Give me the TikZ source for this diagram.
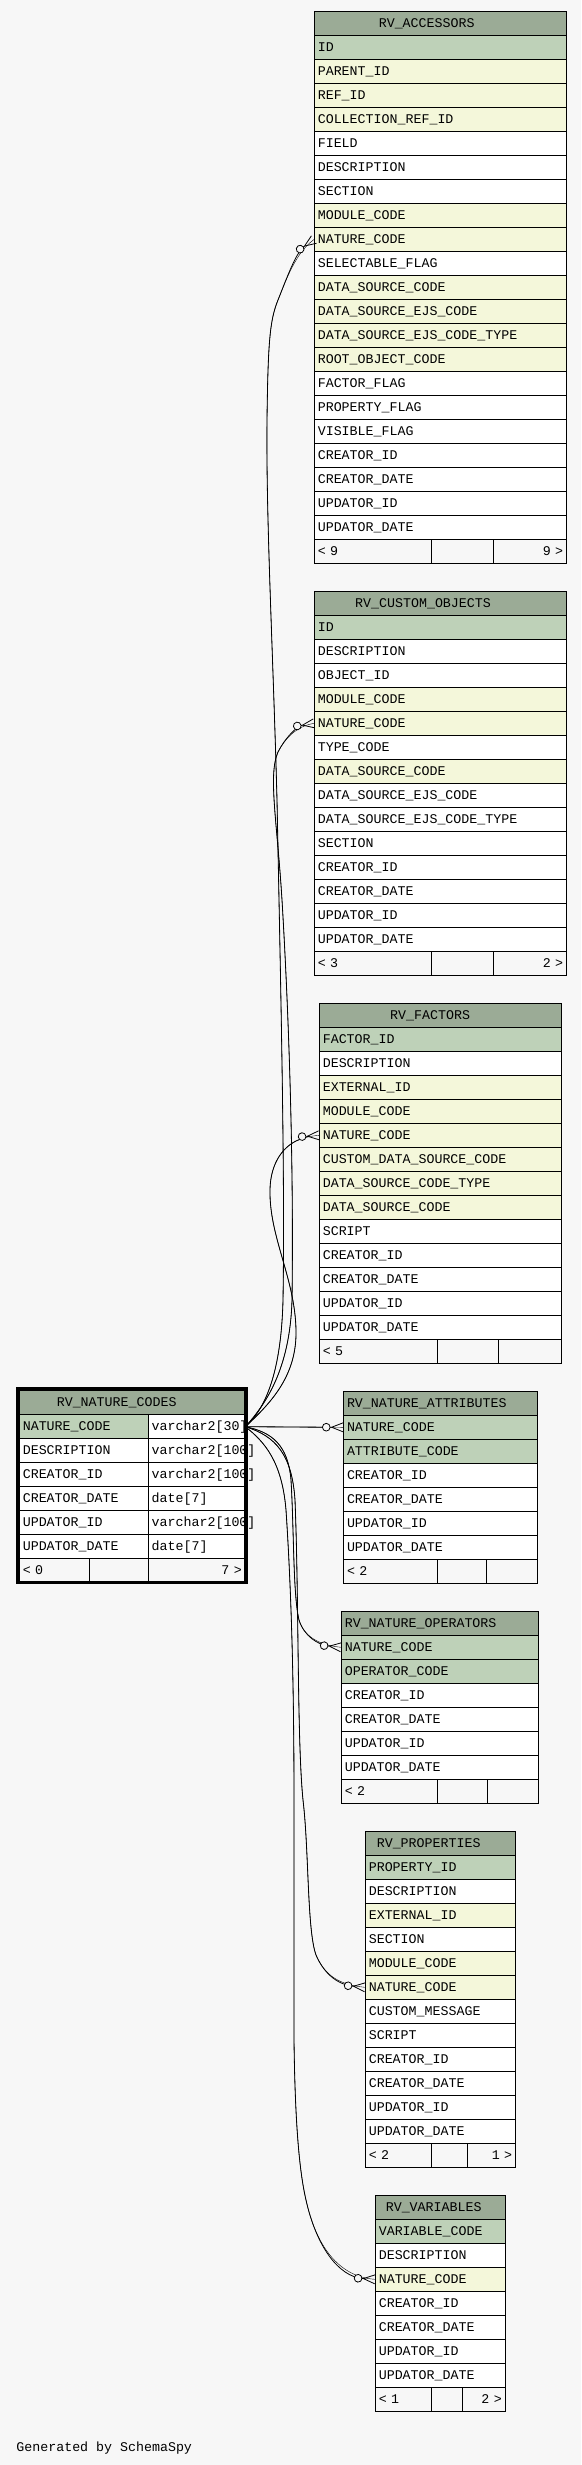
\documentclass[tikz,border=0pt]{standalone}
\usepackage{fontspec}
\setmonofont{Liberation Mono}
\usetikzlibrary{arrows.meta,positioning}

\definecolor{fondo}{HTML}{F7F7F7}
\definecolor{cabecera}{HTML}{9BAB96}
\definecolor{pk}{HTML}{BED1B8}
\definecolor{fk}{HTML}{F4F7DA}

\begin{document}
\begin{tikzpicture}[x=1pt, y=-1pt,
  celda/.style={draw, line width=0.9pt, anchor=north west, outer sep=0pt,
    inner xsep=3.5pt, inner ysep=0pt, minimum height=24pt,
    text height=9pt, text depth=1pt, align=left,
    font=\ttfamily\fontsize{13.3}{14}\selectfont},
  cab/.style={celda, fill=cabecera},
  pie/.style={celda, fill=fondo},
  rel/.style={line width=0.8pt, preaction={draw,-},
    -{Circle[length=8.5pt,width=8.5pt,fill=fondo]Straight Barb[reversed,length=11.5pt,width=9pt]}}
]

  % Fondo y marco de la imagen
  \useasboundingbox (0,0) rectangle (581,2465);
  \fill[fondo] (0,0) rectangle (581,2465);

  % Tabla RV_ACCESSORS
  \node[cab, text width=245.4pt] (acc) at (314.3,11.3) {\hspace*{61pt}RV\_ACCESSORS};
  \foreach \nom/\relleno [count=\i] in {ID/pk, PARENT\_ID/fk, REF\_ID/fk,
      COLLECTION\_REF\_ID/fk, FIELD/white, DESCRIPTION/white, SECTION/white,
      MODULE\_CODE/fk, NATURE\_CODE/fk, SELECTABLE\_FLAG/white,
      DATA\_SOURCE\_CODE/fk, DATA\_SOURCE\_EJS\_CODE/fk,
      DATA\_SOURCE\_EJS\_CODE\_TYPE/fk, ROOT\_OBJECT\_CODE/fk,
      FACTOR\_FLAG/white, PROPERTY\_FLAG/white, VISIBLE\_FLAG/white,
      CREATOR\_ID/white, CREATOR\_DATE/white, UPDATOR\_ID/white,
      UPDATOR\_DATE/white}{
    \node[celda, fill=\relleno, text width=245.4pt] (acc-\i) at (314.3,11.3+24*\i) {\nom};
  }
  \node[pie, text width=110.4pt] (acc-p1) at (314.3,539.3) {< 9};
  \node[pie, text width=55pt, right=0pt of acc-p1] (acc-p2) {};
  \node[pie, text width=66pt, align=right, right=0pt of acc-p2] (acc-p3) {9 >};

  % Tabla RV_CUSTOM_OBJECTS
  \node[cab, text width=245.4pt] (co) at (314.3,591.3) {\hspace*{37.4pt}RV\_CUSTOM\_OBJECTS};
  \foreach \nom/\relleno [count=\i] in {ID/pk, DESCRIPTION/white,
      OBJECT\_ID/white, MODULE\_CODE/fk, NATURE\_CODE/fk, TYPE\_CODE/white,
      DATA\_SOURCE\_CODE/fk, DATA\_SOURCE\_EJS\_CODE/white,
      DATA\_SOURCE\_EJS\_CODE\_TYPE/white, SECTION/white, CREATOR\_ID/white,
      CREATOR\_DATE/white, UPDATOR\_ID/white, UPDATOR\_DATE/white}{
    \node[celda, fill=\relleno, text width=245.4pt] (co-\i) at (314.3,591.3+24*\i) {\nom};
  }
  \node[pie, text width=110.4pt] (co-p1) at (314.3,951.3) {< 3};
  \node[pie, text width=55pt, right=0pt of co-p1] (co-p2) {};
  \node[pie, text width=66pt, align=right, right=0pt of co-p2] (co-p3) {2 >};

  % Tabla RV_FACTORS
  \node[cab, text width=235.4pt] (fac) at (319.3,1003.3) {\hspace*{67.4pt}RV\_FACTORS};
  \foreach \nom/\relleno [count=\i] in {FACTOR\_ID/pk, DESCRIPTION/white,
      EXTERNAL\_ID/fk, MODULE\_CODE/fk, NATURE\_CODE/fk,
      CUSTOM\_DATA\_SOURCE\_CODE/fk, DATA\_SOURCE\_CODE\_TYPE/fk,
      DATA\_SOURCE\_CODE/fk, SCRIPT/white, CREATOR\_ID/white,
      CREATOR\_DATE/white, UPDATOR\_ID/white, UPDATOR\_DATE/white}{
    \node[celda, fill=\relleno, text width=235.4pt] (fac-\i) at (319.3,1003.3+24*\i) {\nom};
  }
  \node[pie, text width=111pt] (fac-p1) at (319.3,1339.3) {< 5};
  \node[pie, text width=54.4pt, right=0pt of fac-p1] (fac-p2) {};
  \node[pie, text width=56pt, right=0pt of fac-p2] (fac-p3) {};

  % Tabla RV_NATURE_CODES (tabla principal, dos columnas)
  \node[cab, text width=219pt] (nc) at (19.3,1390.7) {\hspace*{34pt}RV\_NATURE\_CODES};
  \foreach \nom/\tipo/\relleno [count=\i] in {NATURE\_CODE/varchar2[30]/pk,
      DESCRIPTION/varchar2[100]/white, CREATOR\_ID/varchar2[100]/white,
      CREATOR\_DATE/date[7]/white, UPDATOR\_ID/varchar2[100]/white,
      UPDATOR\_DATE/date[7]/white}{
    \node[celda, fill=\relleno, text width=121.9pt] (nc-\i) at (19.3,1390.7+24*\i) {\nom};
    \node[celda, fill=white, text width=90.1pt, right=0pt of nc-\i] (nctipo-\i) {\tipo};
  }
  \node[pie, text width=63pt] (nc-p1) at (19.3,1558.7) {< 0};
  \node[pie, text width=51.9pt, right=0pt of nc-p1] (nc-p2) {};
  \node[pie, text width=90.1pt, align=right, right=0pt of nc-p2] (nc-p3) {7 >};

  % Tabla RV_NATURE_ATTRIBUTES
  \node[cab, text width=187.1pt] (att) at (343.5,1391.3) {RV\_NATURE\_ATTRIBUTES};
  \foreach \nom/\relleno [count=\i] in {NATURE\_CODE/pk, ATTRIBUTE\_CODE/pk,
      CREATOR\_ID/white, CREATOR\_DATE/white, UPDATOR\_ID/white,
      UPDATOR\_DATE/white}{
    \node[celda, fill=\relleno, text width=187.1pt] (att-\i) at (343.5,1391.3+24*\i) {\nom};
  }
  \node[pie, text width=87.1pt] (att-p1) at (343.5,1559.3) {< 2};
  \node[pie, text width=41.9pt, right=0pt of att-p1] (att-p2) {};
  \node[pie, text width=44.1pt, right=0pt of att-p2] (att-p3) {};

  % Tabla RV_NATURE_OPERATORS
  \node[cab, text width=190.4pt] (ops) at (341.3,1611.3) {RV\_NATURE\_OPERATORS};
  \foreach \nom/\relleno [count=\i] in {NATURE\_CODE/pk, OPERATOR\_CODE/pk,
      CREATOR\_ID/white, CREATOR\_DATE/white, UPDATOR\_ID/white,
      UPDATOR\_DATE/white}{
    \node[celda, fill=\relleno, text width=190.4pt] (ops-\i) at (341.3,1611.3+24*\i) {\nom};
  }
  \node[pie, text width=89pt] (ops-p1) at (341.3,1779.3) {< 2};
  \node[pie, text width=43.4pt, right=0pt of ops-p1] (ops-p2) {};
  \node[pie, text width=44pt, right=0pt of ops-p2] (ops-p3) {};

  % Tabla RV_PROPERTIES
  \node[cab, text width=143.4pt] (prop) at (365.3,1831.3) {\hspace*{8pt}RV\_PROPERTIES};
  \foreach \nom/\relleno [count=\i] in {PROPERTY\_ID/pk, DESCRIPTION/white,
      EXTERNAL\_ID/fk, SECTION/white, MODULE\_CODE/fk, NATURE\_CODE/fk,
      CUSTOM\_MESSAGE/white, SCRIPT/white, CREATOR\_ID/white,
      CREATOR\_DATE/white, UPDATOR\_ID/white, UPDATOR\_DATE/white}{
    \node[celda, fill=\relleno, text width=143.4pt] (prop-\i) at (365.3,1831.3+24*\i) {\nom};
  }
  \node[pie, text width=59.4pt] (prop-p1) at (365.3,2143.3) {< 2};
  \node[pie, text width=28.6pt, right=0pt of prop-p1] (prop-p2) {};
  \node[pie, text width=41.4pt, align=right, right=0pt of prop-p2] (prop-p3) {1 >};

  % Tabla RV_VARIABLES
  \node[cab, text width=123pt] (var) at (375.3,2195.3) {\hspace*{7pt}RV\_VARIABLES};
  \foreach \nom/\relleno [count=\i] in {VARIABLE\_CODE/pk, DESCRIPTION/white,
      NATURE\_CODE/fk, CREATOR\_ID/white, CREATOR\_DATE/white,
      UPDATOR\_ID/white, UPDATOR\_DATE/white}{
    \node[celda, fill=\relleno, text width=123pt] (var-\i) at (375.3,2195.3+24*\i) {\nom};
  }
  \node[pie, text width=49.4pt] (var-p1) at (375.3,2387.3) {< 1};
  \node[pie, text width=23.6pt, right=0pt of var-p1] (var-p2) {};
  \node[pie, text width=36pt, align=right, right=0pt of var-p2] (var-p3) {2 >};

  % Relaciones: NATURE_CODE -> tablas hijas (cero o muchos)
  \draw[rel] (nctipo-1.east) .. controls (262,1412) and (281,1380) .. (283,1300)
    .. controls (285,1180) and (281,1000) .. (277,800)
    .. controls (273,650) and (266,520) .. (267,420)
    .. controls (268,340) and (270,320) .. (278,300)
    .. controls (286,280) and (296,252) .. (acc-9.west);
  \draw[rel] (nctipo-1.east) .. controls (265,1405) and (290,1370) .. (292,1300)
    .. controls (294,1150) and (288,1000) .. (282,900)
    .. controls (277,820) and (268,775) .. (278,752)
    .. controls (285,738) and (297,726) .. (co-5.west);
  \draw[rel] (nctipo-1.east) .. controls (272,1402) and (297,1375) .. (296,1330)
    .. controls (295,1280) and (271,1240) .. (270,1195)
    .. controls (269,1165) and (282,1148) .. (296,1141)
    .. controls (302,1138) and (310,1136) .. (fac-5.west);
  \draw[rel] (nctipo-1.east) -- (att-1.west);
  \draw[rel] (nctipo-1.east) .. controls (272,1432) and (288,1445) .. (291,1480)
    .. controls (294,1530) and (293,1595) .. (299,1620)
    .. controls (304,1636) and (318,1645) .. (ops-1.west);
  \draw[rel] (nctipo-1.east) .. controls (276,1436) and (292,1455) .. (295,1500)
    .. controls (299,1600) and (297,1740) .. (303,1800)
    .. controls (309,1850) and (307,1930) .. (316,1955)
    .. controls (325,1976) and (340,1985) .. (prop-6.west);
  \draw[rel] (nctipo-1.east) .. controls (265,1442) and (282,1462) .. (286,1510)
    .. controls (292,1600) and (294,1700) .. (294,1800)
    -- (294,2040)
    .. controls (295,2120) and (299,2170) .. (306,2200)
    .. controls (316,2245) and (338,2277) .. (var-3.west);

  % Marco grueso de la tabla principal
  \draw[line width=3.5pt] (17.4,1389) rectangle (245.8,1582.6);

  % Pie de la imagen
  \node[anchor=base west, inner sep=0pt, font=\ttfamily\fontsize{13.3}{14}\selectfont]
    (firma) at (16.2,2451.7) {Generated by SchemaSpy};

\end{tikzpicture}
\end{document}
